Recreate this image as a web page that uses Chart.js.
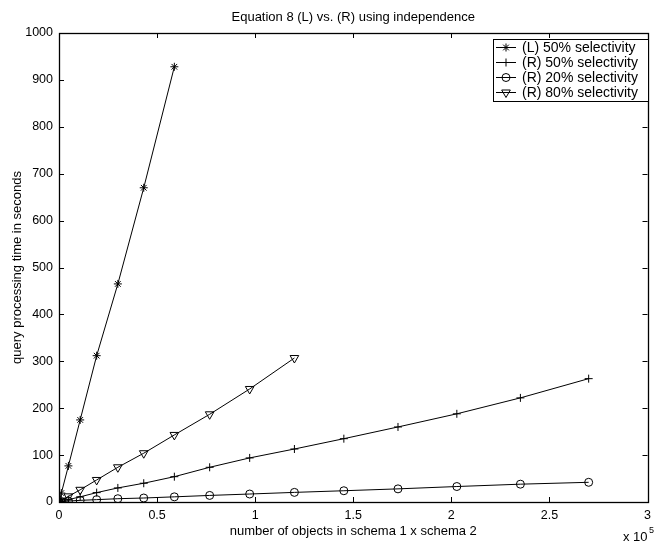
<!DOCTYPE html>
<html>
<head>
<meta charset="utf-8">
<title>Equation 8 (L) vs. (R) using independence</title>
<script src="https://cdn.jsdelivr.net/npm/chart.js@4/dist/chart.umd.min.js"></script>
<style>
    html, body { margin: 0; padding: 0; background: #fff; }
    #wrap { width: 657px; height: 544px; position: relative; }
</style>
</head>
<body>
<div id="wrap"><canvas id="chart" width="657" height="544"></canvas></div>
<script>
// number of objects in schema 1 x schema 2
const objects = [0, 1200, 4800, 10800, 19200, 30000, 43200, 58800, 76800, 97200, 120000, 145200, 172800, 202800, 235200, 270000];

// query processing time in seconds
const leftFifty = [0, 19, 77, 175, 312, 465, 670, 928];
const rightFifty = [0, 1, 5, 11, 20, 30, 40, 54, 74, 94, 113, 135, 160, 188, 222, 263];
const rightTwenty = [0, 0.5, 2, 3.5, 5, 7, 8.5, 11, 14, 17, 20.5, 24, 28, 33, 38, 42];
const rightEighty = [0, 3, 12, 26, 47, 74, 104, 143, 187, 241, 307];

const seriesNames = ['(L) 50% selectivity', '(R) 50% selectivity', '(R) 20% selectivity', '(R) 80% selectivity'];
const xTicks = [0, 50000, 100000, 150000, 200000, 250000, 300000];
const yTicks = [0, 100, 200, 300, 400, 500, 600, 700, 800, 900, 1000];

const FONT = '"Liberation Sans", Arial, Helvetica, sans-serif';
Chart.defaults.font.family = FONT;
Chart.defaults.font.size = 12.5;
Chart.defaults.color = '#000';

const pairs = (vals) => vals.map((v, i) => ({ x: objects[i], y: v }));

const markers = [
    { pointStyle: 'star', radius: 4, rotation: 0 },
    { pointStyle: 'cross', radius: 4, rotation: 0 },
    { pointStyle: 'circle', radius: 4, rotation: 0 },
    { pointStyle: 'triangle', radius: 5, rotation: 180 },
];

function series(i, vals) {
    const m = markers[i];
    return {
        label: seriesNames[i],
        data: pairs(vals),
        borderColor: '#000',
        backgroundColor: 'rgba(0,0,0,0)',
        borderWidth: 1,
        pointStyle: m.pointStyle,
        pointRadius: m.radius,
        pointRotation: m.rotation,
        pointBorderColor: '#000',
        pointBackgroundColor: 'rgba(0,0,0,0)',
        pointBorderWidth: 1,
        tension: 0,
    };
}

// box, inward ticks, title, legend and exponent
const matlabFrame = {
    id: 'matlabFrame',
    afterDraw(chart) {
        const { ctx, chartArea: a, scales } = chart;
        ctx.save();
        ctx.strokeStyle = '#000';
        ctx.lineWidth = 1;
        const tick = 5;
        ctx.beginPath();
        xTicks.forEach((v) => {
            const px = Math.round(scales.x.getPixelForValue(v)) + 0.5;
            ctx.moveTo(px, a.bottom); ctx.lineTo(px, a.bottom - tick);
            ctx.moveTo(px, a.top); ctx.lineTo(px, a.top + tick);
        });
        yTicks.forEach((v) => {
            const py = Math.round(scales.y.getPixelForValue(v)) + 0.5;
            ctx.moveTo(a.left, py); ctx.lineTo(a.left + tick, py);
            ctx.moveTo(a.right, py); ctx.lineTo(a.right - tick, py);
        });
        ctx.stroke();
        ctx.lineWidth = 1.3;
        ctx.strokeRect(Math.round(a.left) + 0.5, Math.round(a.top) + 0.5, Math.round(a.right - a.left), Math.round(a.bottom - a.top));

        // title
        ctx.fillStyle = '#000';
        ctx.font = '13px ' + FONT;
        ctx.textAlign = 'center';
        ctx.textBaseline = 'middle';
        ctx.fillText('Equation 8 (L) vs. (R) using independence', (a.left + a.right) / 2, 17);

        // exponent
        ctx.textAlign = 'left';
        ctx.textBaseline = 'alphabetic';
        ctx.font = '13px ' + FONT;
        ctx.fillText('x 10', 623, 541);
        ctx.font = '9px ' + FONT;
        ctx.fillText('5', 649, 533);

        // legend
        const lx = 493, ly = 39, lw = 155, lh = 62;
        ctx.fillStyle = '#fff';
        ctx.fillRect(lx, ly, lw, lh);
        ctx.lineWidth = 1;
        ctx.strokeRect(lx + 0.5, ly + 0.5, lw, lh);
        ctx.font = '14px ' + FONT;
        ctx.textBaseline = 'middle';
        chart.data.datasets.forEach((ds, i) => {
            const y = ly + 8.5 + i * 15;
            ctx.strokeStyle = '#000';
            ctx.beginPath();
            ctx.moveTo(lx + 3, y); ctx.lineTo(lx + 23, y);
            ctx.stroke();
            ctx.fillStyle = 'rgba(0,0,0,0)';
            Chart.helpers.drawPoint(ctx, {
                pointStyle: ds.pointStyle,
                radius: ds.pointRadius,
                rotation: ds.pointRotation,
                borderWidth: 1,
            }, lx + 13, y);
            ctx.fillStyle = '#000';
            ctx.fillText(ds.label, lx + 29, y + 0.5);
        });
        ctx.restore();
    },
};

new Chart(document.getElementById('chart'), {
    type: 'line',
    data: {
        datasets: [
            series(0, leftFifty),
            series(1, rightFifty),
            series(2, rightTwenty),
            series(3, rightEighty),
        ],
    },
    options: {
        responsive: false,
        animation: false,
        layout: { padding: { top: 33, right: 4, left: 0, bottom: 0 } },
        plugins: {
            legend: { display: false },
            title: { display: false },
            tooltip: { enabled: false },
        },
        scales: {
            x: {
                type: 'linear',
                min: 0,
                max: 300000,
                afterBuildTicks: (scale) => { scale.ticks = xTicks.map((v) => ({ value: v })); },
                afterFit: (scale) => { scale.height = 42; },
                ticks: {
                    padding: 6,
                    maxRotation: 0,
                    callback: (v) => String(v / 100000),
                },
                grid: { display: false, drawTicks: false },
                border: { display: false },
                title: {
                    display: true,
                    text: 'number of objects in schema 1 x schema 2',
                    font: { size: 13 },
                    padding: { top: 0, bottom: 5 },
                },
            },
            y: {
                type: 'linear',
                min: 0,
                max: 1000,
                afterBuildTicks: (scale) => { scale.ticks = yTicks.map((v) => ({ value: v })); },
                afterFit: (scale) => { scale.width = 59; },
                ticks: { padding: 6, callback: (v) => String(v) },
                grid: { display: false, drawTicks: false },
                border: { display: false },
                title: {
                    display: true,
                    text: 'query processing time in seconds',
                    font: { size: 13 },
                    padding: { top: 10, bottom: 0 },
                },
            },
        },
    },
    plugins: [matlabFrame],
});
</script>
</body>
</html>
